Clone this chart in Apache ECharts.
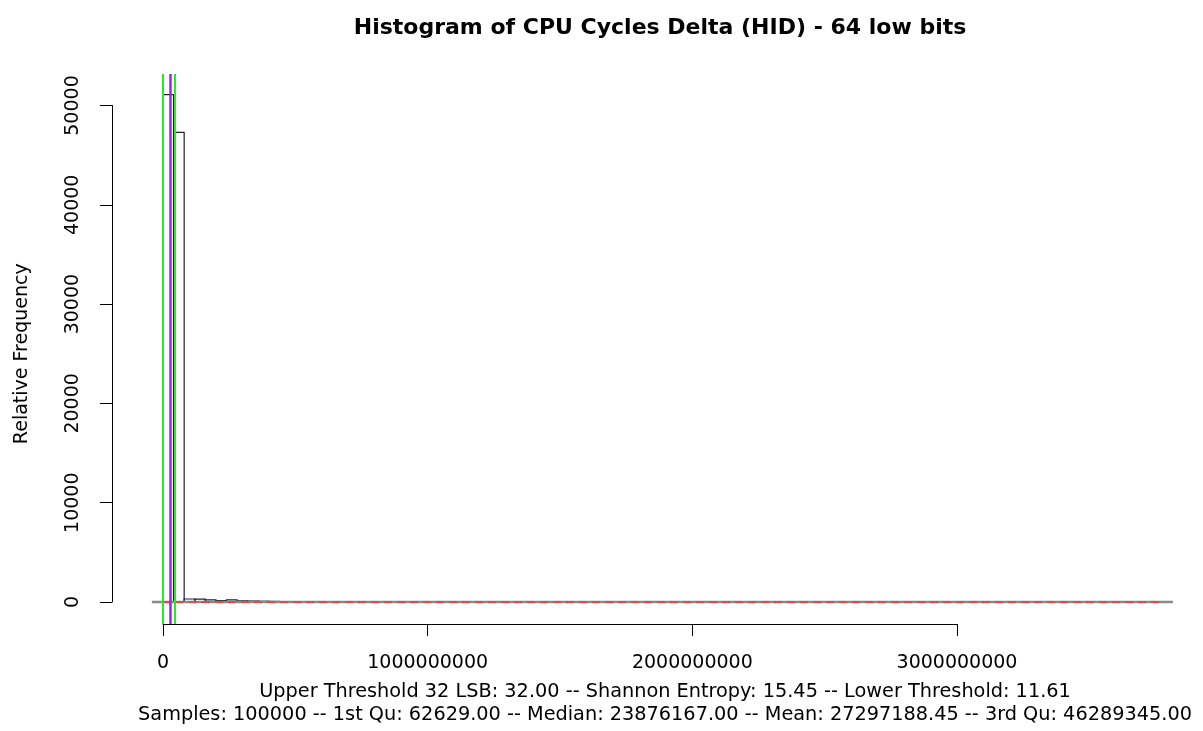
<!DOCTYPE html>
<html>
<head>
<meta charset="utf-8">
<title>Histogram of CPU Cycles Delta (HID) - 64 low bits</title>
<script src="https://cdn.jsdelivr.net/npm/echarts@6/dist/echarts.min.js"></script>
<style>
  html, body { margin: 0; padding: 0; background: #ffffff; }
  #chart { width: 1203px; height: 731px; }
</style>
</head>
<body>
<div id="chart"></div>
<script>
// Histogram breaks (CPU cycles) and the count in each bin
const binBreaks = [0, 40000000, 80000000, 120000000, 160000000, 200000000, 240000000,
  280000000, 320000000, 360000000, 400000000, 440000000, 480000000, 520000000, 560000000];
const binCounts = [51100, 47300, 300, 280, 220, 150, 220, 120, 100, 80, 60, 40, 20, 10];

// Summary statistics
const sampleCount = 100000;
const firstQu = 62629.00;
const median = 23876167.00;
const mean = 27297188.45;
const thirdQu = 46289345.00;
const upperThreshold = 32.00;
const shannonEntropy = 15.45;
const lowerThreshold = 11.61;

// Density curve (flat at this scale) and fitted reference curve
const densityX = [-42000000, 3816000000];
const densityY = [0, 0];
const fitX = [0, 3780000000];
const fitY = [0, 0];

// Axis ticks
const xTicks = [0, 1000000000, 2000000000, 3000000000];
const yTicks = [0, 10000, 20000, 30000, 40000, 50000];

const FONT = '"DejaVu Sans", "Liberation Sans", Arial, sans-serif';

const chart = echarts.init(document.getElementById('chart'), null, { renderer: 'canvas' });

const xStep = xTicks[1] - xTicks[0];
const yStep = yTicks[1] - yTicks[0];

const histData = binCounts.map((c, i) => [binBreaks[i], binBreaks[i + 1], c]);

const option = {
  backgroundColor: '#ffffff',
  animation: false,
  title: [
    {
      text: 'Histogram of CPU Cycles Delta (HID) - 64 low bits',
      left: 655, top: 12, textAlign: 'center',
      textStyle: { fontFamily: FONT, fontWeight: 'bold', fontSize: 22, color: '#000' }
    },
    {
      text: 'Upper Threshold 32 LSB: ' + upperThreshold.toFixed(2) +
        ' -- Shannon Entropy: ' + shannonEntropy.toFixed(2) +
        ' -- Lower Threshold: ' + lowerThreshold.toFixed(2),
      left: 660, top: 677, textAlign: 'center',
      textStyle: { fontFamily: FONT, fontWeight: 'normal', fontSize: 19.3, color: '#000' }
    },
    {
      text: 'Samples: ' + sampleCount + ' -- 1st Qu: ' + firstQu.toFixed(2) +
        ' -- Median: ' + median.toFixed(2) + ' -- Mean: ' + mean.toFixed(2) +
        ' -- 3rd Qu: ' + thirdQu.toFixed(2),
      left: 660, top: 700, textAlign: 'center',
      textStyle: { fontFamily: FONT, fontWeight: 'normal', fontSize: 19.3, color: '#000' }
    }
  ],
  grid: [
    // plot region
    { left: 112, right: 0, top: 74, bottom: 107 },
    // x axis (spans the tick range only)
    { left: 163, width: 794, top: 74, bottom: 107 },
    // y axis (spans the tick range only)
    { left: 112, width: 10, top: 105.5, bottom: 129 }
  ],
  xAxis: [
    {
      gridIndex: 0, type: 'value',
      min: -192670000, max: 3929500000,
      show: false, splitLine: { show: false }
    },
    {
      gridIndex: 1, type: 'value',
      min: xTicks[0], max: xTicks[xTicks.length - 1], interval: xStep,
      axisLine: { show: true, lineStyle: { color: '#000', width: 1 } },
      axisTick: { show: true, length: 12, lineStyle: { color: '#000' } },
      axisLabel: {
        show: true, margin: 30, fontFamily: FONT, fontSize: 19, color: '#000',
        formatter: v => String(v)
      },
      splitLine: { show: false }
    },
    {
      gridIndex: 2, type: 'value', show: false
    }
  ],
  yAxis: [
    {
      gridIndex: 0, type: 'value',
      min: -2215.5, max: 53172,
      show: false, splitLine: { show: false }
    },
    {
      gridIndex: 1, type: 'value', show: false
    },
    {
      gridIndex: 2, type: 'value',
      min: yTicks[0], max: yTicks[yTicks.length - 1], interval: yStep,
      axisLine: { show: true, lineStyle: { color: '#000', width: 1 } },
      axisTick: { show: true, length: 12, lineStyle: { color: '#000' } },
      axisLabel: {
        show: true, rotate: 90, margin: 29, fontFamily: FONT, fontSize: 19, color: '#000',
        formatter: v => String(v)
      },
      splitLine: { show: false },
      name: 'Relative Frequency',
      nameLocation: 'middle',
      nameRotate: 90,
      nameGap: 80,
      nameTextStyle: { fontFamily: FONT, fontSize: 19, color: '#000' }
    }
  ],
  series: [
    {
      // histogram bins, outline only
      type: 'custom',
      xAxisIndex: 0, yAxisIndex: 0,
      data: histData,
      encode: { x: [0, 1], y: 2 },
      clip: false,
      renderItem: function (params, api) {
        const p0 = api.coord([api.value(0), api.value(2)]);
        const p1 = api.coord([api.value(1), 0]);
        return {
          type: 'rect',
          shape: { x: p0[0], y: p0[1], width: p1[0] - p0[0], height: p1[1] - p0[1] },
          style: { fill: null, stroke: '#222', lineWidth: 1.2 }
        };
      },
      z: 2
    },
    {
      // density curve
      type: 'line',
      xAxisIndex: 0, yAxisIndex: 0,
      data: densityX.map((x, i) => [x, densityY[i]]),
      showSymbol: false, symbol: 'none',
      lineStyle: { color: '#8a8a8a', width: 2.5 },
      z: 3
    },
    {
      // fitted curve, dashed
      type: 'line',
      xAxisIndex: 0, yAxisIndex: 0,
      data: fitX.map((x, i) => [x, fitY[i]]),
      showSymbol: false, symbol: 'none',
      lineStyle: { color: '#e8474a', width: 2, type: [8, 5] },
      z: 4,
      markLine: {
        silent: true, symbol: 'none',
        label: { show: false },
        data: [
          { xAxis: firstQu, lineStyle: { color: '#22ee22', width: 2, type: 'solid' } },
          { xAxis: thirdQu, lineStyle: { color: '#22ee22', width: 2, type: 'solid' } },
          { xAxis: mean, lineStyle: { color: '#a020f0', width: 2.5, type: 'solid' } }
        ]
      }
    }
  ]
};

chart.setOption(option);
</script>
</body>
</html>
